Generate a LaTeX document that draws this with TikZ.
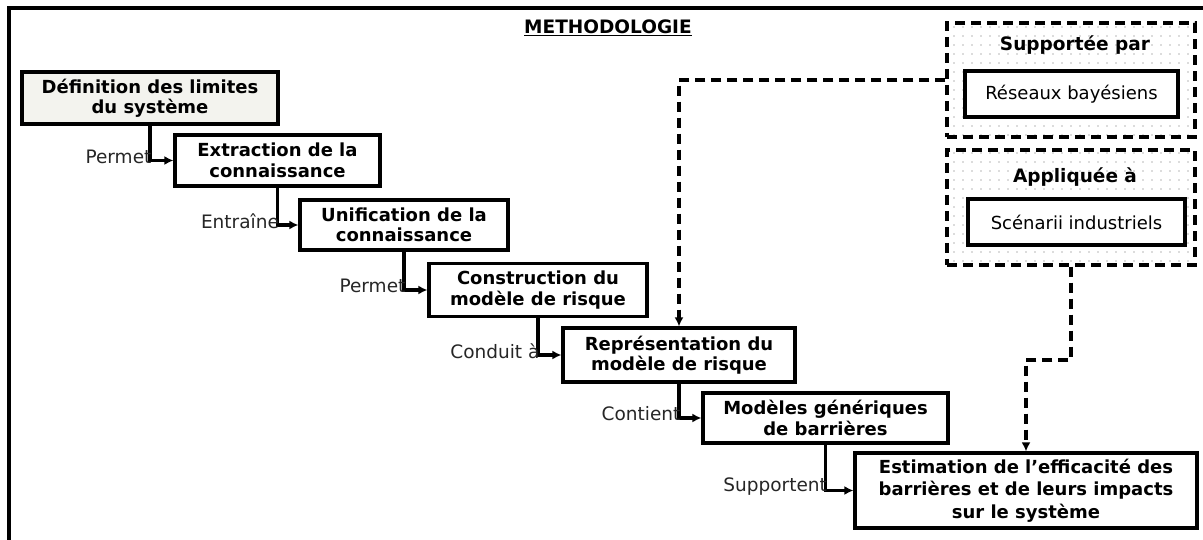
\documentclass[tikz,border=0pt]{standalone}
\usepackage{fontspec}
\setmainfont{DejaVu Sans}
\usetikzlibrary{arrows.meta,patterns.meta}

\tikzstyle{step-box}=[draw, line width=3.2pt, align=center, inner sep=0pt,
  fill=white, font=\bfseries\fontsize{18}{20.5}\selectfont]
\tikzstyle{group-box}=[draw, line width=3.2pt, dash pattern=on 10pt off 6pt,
  inner sep=0pt, pattern={Dots[distance=9pt, radius=0.9pt]}, pattern color=gray!55]
\tikzstyle{tool-box}=[draw, line width=3.2pt, fill=white, inner sep=0pt,
  font=\fontsize{18}{20}\selectfont]
\tikzstyle{flow-arrow}=[line width=3.2pt, -{Latex[length=9pt,width=9pt]}]
\tikzstyle{support-arrow}=[line width=3.2pt, dash pattern=on 10pt off 6pt,
  -{Latex[length=9pt,width=9pt]}]
\tikzstyle{link-label}=[inner sep=0pt, anchor=east, xshift=3pt, yshift=4pt,
  font=\fontsize{18.5}{20}\selectfont, text=black!85]
\definecolor{startfill}{HTML}{F3F3EE}

\begin{document}
\begin{tikzpicture}[x=1pt, y=-1pt]
  \useasboundingbox (0,0) rectangle (1203,540);
  % frame
  \draw[line width=3.2pt] (1203,8) -- (9,8) -- (9,540);
  \node (title) at (608,28) [font=\bfseries\fontsize{18.5}{20}\selectfont]
        {\underline{METHODOLOGIE}};

  % steps
  \node (step1) at (150,98) [step-box, fill=startfill, minimum width=256, minimum height=52]
        {Définition des limites\\du système};
  \node (step2) at (277.5,160.5) [step-box, minimum width=205, minimum height=51]
        {Extraction de la\\connaissance};
  \node (step3) at (404,225) [step-box, minimum width=208, minimum height=50]
        {Unification de la\\connaissance};
  \node (step4) at (538,290) [step-box, minimum width=218, minimum height=53]
        {Construction du\\modèle de risque};
  \node (step5) at (679,355) [step-box, minimum width=232, minimum height=54]
        {Représentation du\\modèle de risque};
  \node (step6) at (825.5,418) [step-box, minimum width=245, minimum height=50]
        {Modèles génériques\\de barrières};
  \node (step7) at (1026,490.5) [step-box, minimum width=342, minimum height=75,
        font=\bfseries\fontsize{18}{22.5}\selectfont]
        {Estimation de l’efficacité des\\barrières et de leurs impacts\\sur le système};

  % supports
  \node (sup) at (1071,80) [group-box, minimum width=248, minimum height=114] {};
  \node (sup-title) at (1075,45) [font=\bfseries\fontsize{18.5}{20}\selectfont] {Supportée par};
  \node (bayes) at (1071.5,94) [tool-box, minimum width=213, minimum height=46] {Réseaux bayésiens};
  \node (app) at (1071,207.5) [group-box, minimum width=248, minimum height=115] {};
  \node (app-title) at (1075,177) [font=\bfseries\fontsize{18.5}{20}\selectfont] {Appliquée à};
  \node (scen) at (1076.5,222) [tool-box, minimum width=217, minimum height=46] {Scénarii industriels};

  % flow
  \draw[flow-arrow] (step1.south) |- (step2.west) node[link-label, pos=0.5] {Permet};
  \draw[flow-arrow] (step2.south) |- (step3.west) node[link-label, pos=0.5] {Entraîne};
  \draw[flow-arrow] (step3.south) |- (step4.west) node[link-label, pos=0.5] {Permet};
  \draw[flow-arrow] (step4.south) |- (step5.west) node[link-label, pos=0.5] {Conduit à};
  \draw[flow-arrow] (step5.south) |- (step6.west) node[link-label, pos=0.5] {Contient};
  \draw[flow-arrow] (step6.south) |- (step7.west) node[link-label, pos=0.5] {Supportent};

  \draw[support-arrow] (sup.west) -| (step5.north);
  \coordinate (turn) at (1071,360);
  \draw[support-arrow] (app.south) -- (turn) -| (step7.north);
\end{tikzpicture}
\end{document}
